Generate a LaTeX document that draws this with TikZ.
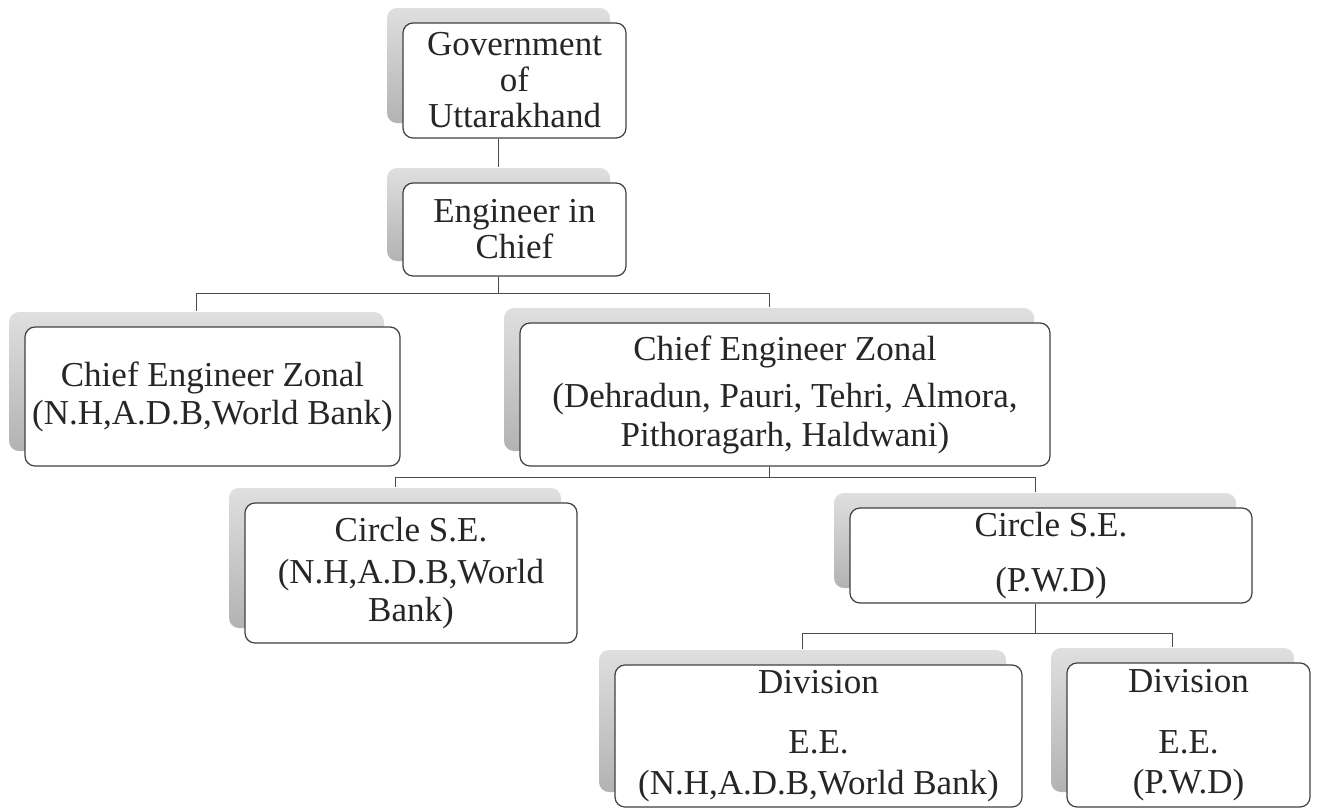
\documentclass[tikz,border=0pt]{standalone}
\usepackage{fontspec}
\setmainfont{Liberation Serif}
\usetikzlibrary{shadows}

\begin{document}
\begin{tikzpicture}[x=0.5pt, y=-0.5pt]
        \tikzstyle{every node}=[draw=black!75, line width=0.6pt, fill=white, rounded corners=5pt, align=center, inner sep=2pt, text=black!85, font=\fontsize{17.5}{18}\selectfont, general shadow={shadow xshift=-8pt, shadow yshift=7.5pt, top color=gray!25, bottom color=gray!60, draw=none}]
        \tikzstyle{link}=[draw=black!70, line width=0.5pt]
        \useasboundingbox[fill=white] (0,0) rectangle (1318,809);
        % boxes
        \node [minimum width=111.5pt, minimum height=57.5pt] (gov) at (514.5,80.5) {Government\\of\\Uttarakhand};
        \node [minimum width=111.5pt, minimum height=46.5pt] (eic) at (514.5,229.5) {Engineer in\\Chief};
        \node [minimum width=187.5pt, minimum height=69.5pt] (cez nh) at (212.5,396.5) {Chief Engineer Zonal\\[1pt](N.H,A.D.B,World Bank)};
        \node [minimum width=265pt, minimum height=71.5pt] (cez pwd) at (785,394.5) {Chief Engineer Zonal\\[5.5pt](Dehradun, Pauri, Tehri, Almora,\\[1.5pt]Pithoragarh, Haldwani)};
        \node [minimum width=166pt, minimum height=70pt] (se nh) at (411,573) {Circle S.E.\\[3pt](N.H,A.D.B,World\\[1pt]Bank)};
        \node [minimum width=201pt, minimum height=47.5pt] (se pwd) at (1051,555.5) {Circle S.E.\\[9.5pt](P.W.D)};
        \node [minimum width=203.5pt, minimum height=71pt] (ee nh) at (818.5,736) {Division\\[12pt]E.E.\\[2.5pt](N.H,A.D.B,World Bank)};
        \node [minimum width=121.5pt, minimum height=72pt] (ee pwd) at (1188.5,735) {Division\\[12.5pt]E.E.\\[2pt](P.W.D)};
        % links
        \draw [link] ([xshift=-8pt]gov.south) -- ([xshift=-8pt,yshift=7.5pt]eic.north);
        \draw [link] ([xshift=-8pt]eic.south) -- ++(0,17) -| ([xshift=-8pt,yshift=7.5pt]cez nh.north);
        \draw [link] ([xshift=-8pt]eic.south) -- ++(0,17) -| ([xshift=-8pt,yshift=7.5pt]cez pwd.north);
        \draw [link] ([xshift=-8pt]cez pwd.south) -- ++(0,11) -| ([xshift=-8pt,yshift=7.5pt]se nh.north);
        \draw [link] ([xshift=-8pt]cez pwd.south) -- ++(0,11) -| ([xshift=-8pt,yshift=7.5pt]se pwd.north);
        \draw [link] ([xshift=-8pt]se pwd.south) -- ++(0,30) -| ([xshift=-8pt,yshift=7.5pt]ee nh.north);
        \draw [link] ([xshift=-8pt]se pwd.south) -- ++(0,30) -| ([xshift=-8pt,yshift=7.5pt]ee pwd.north);
\end{tikzpicture}
\end{document}
